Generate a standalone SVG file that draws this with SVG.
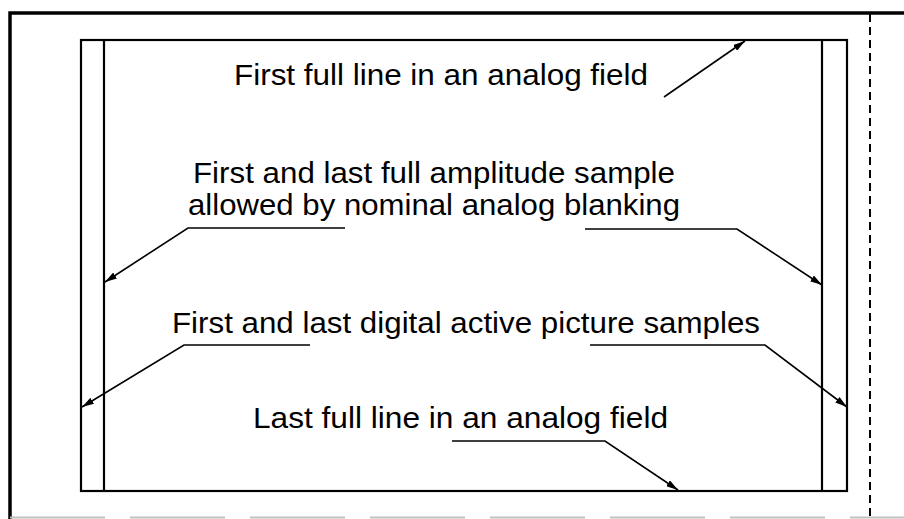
<svg xmlns="http://www.w3.org/2000/svg" width="904" height="519" viewBox="0 0 904 519">
<style>
.frame{fill:none;stroke:#000;stroke-width:3.5}
.box{fill:none;stroke:#000;stroke-width:2.2}
.lead{fill:none;stroke:#000;stroke-width:1.6}
.lbl{font-family:"Liberation Sans",Arial,sans-serif;font-size:29px;fill:#000}
</style>
<defs>
<marker id="ah" viewBox="0 0 12 7" refX="12" refY="3.5" markerWidth="12" markerHeight="7" markerUnits="userSpaceOnUse" orient="auto">
<path d="M0,0 L12,3.5 L0,7 Z" fill="#000"/>
</marker>
</defs>
<rect width="904" height="519" fill="#fff"/>
<g id="outer-frame">
<path class="frame" d="M10,519 L10,13 L904,13"/>
<path d="M870,14 L870,519" fill="none" stroke="#000" stroke-width="2" stroke-dasharray="8 5"/>
<path d="M10,517.5 L904,517.5" fill="none" stroke="#c0c0c0" stroke-width="2" stroke-dasharray="95 25"/>
</g>
<g id="field">
<rect class="box" x="81" y="40" width="766" height="451"/>
<path class="box" d="M104,40 L104,491 M822,40 L822,491"/>
</g>
<g id="label-first-line">
<text class="lbl" x="234" y="85" textLength="414" lengthAdjust="spacingAndGlyphs">First full line in an analog field</text>
</g>
<g id="label-amplitude">
<text class="lbl" x="193" y="183" textLength="482" lengthAdjust="spacingAndGlyphs">First and last full amplitude sample</text>
<text class="lbl" x="188" y="215" textLength="492" lengthAdjust="spacingAndGlyphs">allowed by nominal analog blanking</text>
</g>
<g id="label-digital">
<text class="lbl" x="172" y="333" textLength="588" lengthAdjust="spacingAndGlyphs">First and last digital active picture samples</text>
</g>
<g id="label-last-line">
<text class="lbl" x="253" y="428" textLength="415" lengthAdjust="spacingAndGlyphs">Last full line in an analog field</text>
</g>
<g id="connectors">
<path class="lead" d="M664,97 L745,41" marker-end="url(#ah)"/>
<path class="lead" d="M345,228 L188,228 L105,282" marker-end="url(#ah)"/>
<path class="lead" d="M585,229 L737,229 L822,285" marker-end="url(#ah)"/>
<path class="lead" d="M310,345 L184,345 L82,407" marker-end="url(#ah)"/>
<path class="lead" d="M590,345 L765,345 L847,407" marker-end="url(#ah)"/>
<path class="lead" d="M452,441 L605,441 L678,490" marker-end="url(#ah)"/>
</g>
</svg>
